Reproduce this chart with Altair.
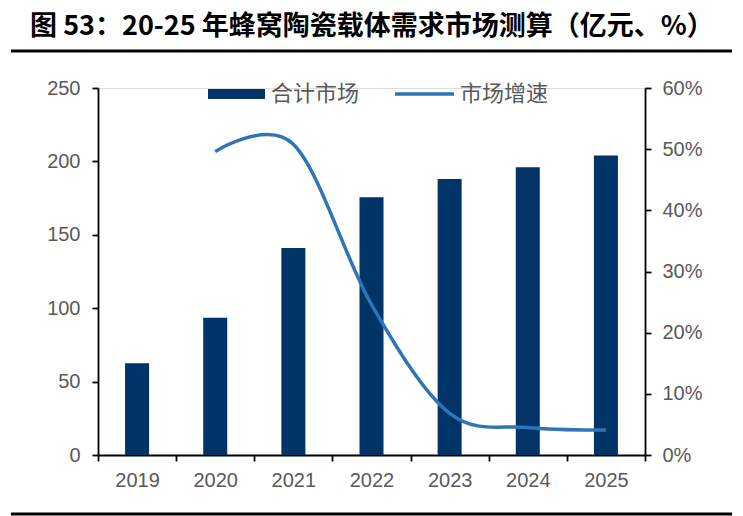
import altair as alt
import pandas as pd

years = ["2019", "2020", "2021", "2022", "2023", "2024", "2025"]
market = [62.5, 93.5, 141, 175.5, 188, 196, 204]
growth = [None, 0.496, 0.508, 0.246, 0.068, 0.045, 0.041]

df = pd.DataFrame({"year": years, "market": market, "growth": growth})

W, H = 547, 367
FONT = "Liberation Sans"
CJK = "Noto Sans CJK SC"
GRAY = "#595959"
NAVY = "#003366"
BLUE = "#2E75B6"
LS = 20

xenc = alt.X("year:N", sort=years, title=None,
             scale=alt.Scale(paddingInner=0, paddingOuter=0),
             axis=alt.Axis(labelAngle=0, tickBand="extent", domainColor="black",
                           tickColor="black", tickSize=6, labelPadding=9,
                           labelFont=FONT, labelFontSize=LS, labelColor=GRAY,
                           domainWidth=1.8, tickWidth=1.8))

bars = alt.Chart(df).mark_bar(size=24, color=NAVY).encode(
    x=xenc,
    y=alt.Y("market:Q", title=None,
            scale=alt.Scale(domain=[0, 250]),
            axis=alt.Axis(values=[0, 50, 100, 150, 200, 250], grid=False,
                          domainColor="black", tickColor="black", tickSize=6,
                          labelFont=FONT, labelFontSize=LS, labelColor=GRAY,
                          labelPadding=12, domainWidth=1.8, tickWidth=1.8)),
)

line = alt.Chart(df).transform_filter("datum.growth != null").mark_line(
    color=BLUE, strokeWidth=3.5, interpolate="cardinal").encode(
    x=alt.X("year:N", sort=years),
    y=alt.Y("growth:Q", title=None,
            scale=alt.Scale(domain=[0, 0.6]),
            axis=alt.Axis(orient="right", values=[0, 0.1, 0.2, 0.3, 0.4, 0.5, 0.6],
                          format=".0%", grid=False, domainColor="black",
                          tickColor="black", tickSize=6, labelFont=FONT,
                          labelFontSize=LS, labelColor=GRAY, labelPadding=11,
                          domainWidth=1.8, tickWidth=1.8)),
)

one = pd.DataFrame({"k": [0]})
base = alt.Chart(one)

title = base.mark_text(text="图 53：20-25 年蜂窝陶瓷载体需求市场测算（亿元、%）",
                       font=CJK, fontSize=27, fontWeight="bold", align="left",
                       baseline="alphabetic", color="black").encode(
    x=alt.value(-68), y=alt.value(-53))

top_rule = base.mark_rule(color="black", strokeWidth=3).encode(
    x=alt.value(-87), x2=alt.value(634), y=alt.value(-37))
bottom_rule = base.mark_rule(color="black", strokeWidth=3).encode(
    x=alt.value(-87), x2=alt.value(634), y=alt.value(426))

leg_rect = base.mark_rect(color=NAVY).encode(
    x=alt.value(110), x2=alt.value(167), y=alt.value(1), y2=alt.value(11))
leg_t1 = base.mark_text(text="合计市场", font=CJK, fontSize=22, color=GRAY,
                        align="left", baseline="middle").encode(
    x=alt.value(173), y=alt.value(6))
leg_line = base.mark_rule(color=BLUE, strokeWidth=3.5).encode(
    x=alt.value(297), x2=alt.value(356), y=alt.value(6))
leg_t2 = base.mark_text(text="市场增速", font=CJK, fontSize=22, color=GRAY,
                        align="left", baseline="middle").encode(
    x=alt.value(362), y=alt.value(6))

main = alt.layer(bars, line).resolve_scale(y="independent")

chart = alt.layer(main, title, top_rule, bottom_rule, leg_rect, leg_t1,
                  leg_line, leg_t2).properties(
    width=W, height=H,
    autosize=alt.AutoSizeParams(type="none"),
    padding={"left": 90, "top": 80, "right": 90, "bottom": 62},
).configure_view(stroke=None).configure(background="white")

chart.save("out.html", embed_options={"renderer": "svg", "actions": False})
